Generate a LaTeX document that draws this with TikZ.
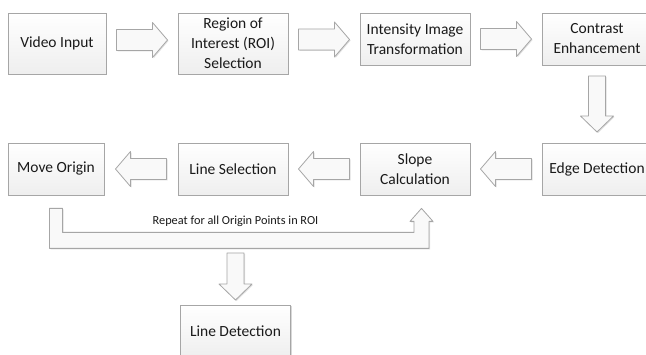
\documentclass[tikz,border=0pt]{standalone}
\usepackage{fontspec}
\setmainfont{Carlito}
\usetikzlibrary{calc,shadows}
\definecolor{bord}{HTML}{A6A6A6}
\definecolor{txt}{HTML}{1A1A1A}
\tikzset{
  box/.style={draw=bord, line width=0.8pt, top color=white, bottom color=gray!13,
    minimum width=110pt, minimum height=52pt, inner sep=0pt, align=center, text=txt,
    font=\fontsize{15.5}{20}\selectfont,
    drop shadow={shadow xshift=1pt, shadow yshift=-1pt, opacity=0.3, fill=gray}},
  fat/.style={draw=bord, line width=0.8pt, fill=gray!5, line join=round,
    drop shadow={shadow xshift=1pt, shadow yshift=-1pt, opacity=0.25, fill=gray}},
  lbl/.style={text=txt, font=\fontsize{12.3}{14}\selectfont, inner sep=0pt}
}
% horizontal block arrow between two anchors: #3 = direction (1 right, -1 left), #4 = y offset
\newcommand\harrow[4]{\draw[fat] let \p0=($(#1)!0.5!(#2)+(0,#4)$) in
  ({\x0-(#3)*25.5pt},{\y0+10.5pt}) -- ({\x0+(#3)*10.5pt},{\y0+10.5pt}) --
  ({\x0+(#3)*10.5pt},{\y0+17.5pt}) -- ({\x0+(#3)*25.5pt},\y0) --
  ({\x0+(#3)*10.5pt},{\y0-17.5pt}) -- ({\x0+(#3)*10.5pt},{\y0-10.5pt}) --
  ({\x0-(#3)*25.5pt},{\y0-10.5pt}) -- cycle;}
% downward block arrow between two anchors: #3 = half length
\newcommand\varrow[3]{\draw[fat] let \p0=($(#1)!0.5!(#2)$) in
  ({\x0-8.5pt},{\y0+#3pt}) -- ({\x0-8.5pt},{\y0-#3pt+16pt}) --
  ({\x0-16.5pt},{\y0-#3pt+16pt}) -- (\x0,{\y0-#3pt}) --
  ({\x0+16.5pt},{\y0-#3pt+16pt}) -- ({\x0+8.5pt},{\y0-#3pt+16pt}) --
  ({\x0+8.5pt},{\y0+#3pt}) -- cycle;}
\begin{document}
\begin{tikzpicture}[x=1pt,y=1pt]
\useasboundingbox (0,0) rectangle (646,354);
\fill[white] (0,0) rectangle (646,354);

\node[box, minimum width=98pt, minimum height=61pt] (vid) at (57,310.5) {Video Input};
\node[box, minimum height=61pt] (roi) at (233,310.5) {Region of\\Interest (ROI)\\Selection};
\node[box] (int) at (415,315) {Intensity Image\\Transformation};
\node[box] (con) at (597,315) {Contrast\\Enhancement};
\node[box] (edge) at (597,185) {Edge Detection};
\node[box] (slope) at (415,185) {Slope\\Calculation};
\node[box] (lsel) at (233,185) {Line Selection};
\node[box, minimum width=96pt] (move) at (56,185) {Move Origin};
\node[box] (ldet) at (235.5,23) {Line Detection};

\harrow{vid.east}{roi.west}{1}{3.5}
\harrow{roi.east}{int.west}{1}{1.75}
\harrow{int.east}{con.west}{1}{0}
\varrow{con.south}{edge.north}{28}
\harrow{edge.west}{slope.east}{-1}{0}
\harrow{slope.west}{lsel.east}{-1}{0}
\harrow{lsel.west}{move.east}{-1}{0}

% loop arrow back to slope calculation
\draw[fat] let \p1=(move.south), \p2=(slope.south) in
  ({\x1-6.5pt},{\y1-13pt}) -- ({\x1-6.5pt},{\y1-53pt}) -- ({\x2+14pt},{\y1-53pt}) --
  ({\x2+14pt},{\y2-26pt}) -- ({\x2+18pt},{\y2-26pt}) -- ({\x2+6.5pt},{\y2-13pt}) --
  ({\x2-5pt},{\y2-26pt}) -- ({\x2-1pt},{\y2-26pt}) -- ({\x2-1pt},{\y1-37pt}) --
  ({\x1+6.5pt},{\y1-37pt}) -- ({\x1+6.5pt},{\y1-13pt}) -- cycle;
\node[lbl] (rep) at (235.5,133) {Repeat for all Origin Points in ROI};

\coordinate (loopb) at ($(move.south)+(0,-53)$);
\varrow{ldet.north |- loopb}{ldet.north}{23.5}
\end{tikzpicture}
\end{document}
